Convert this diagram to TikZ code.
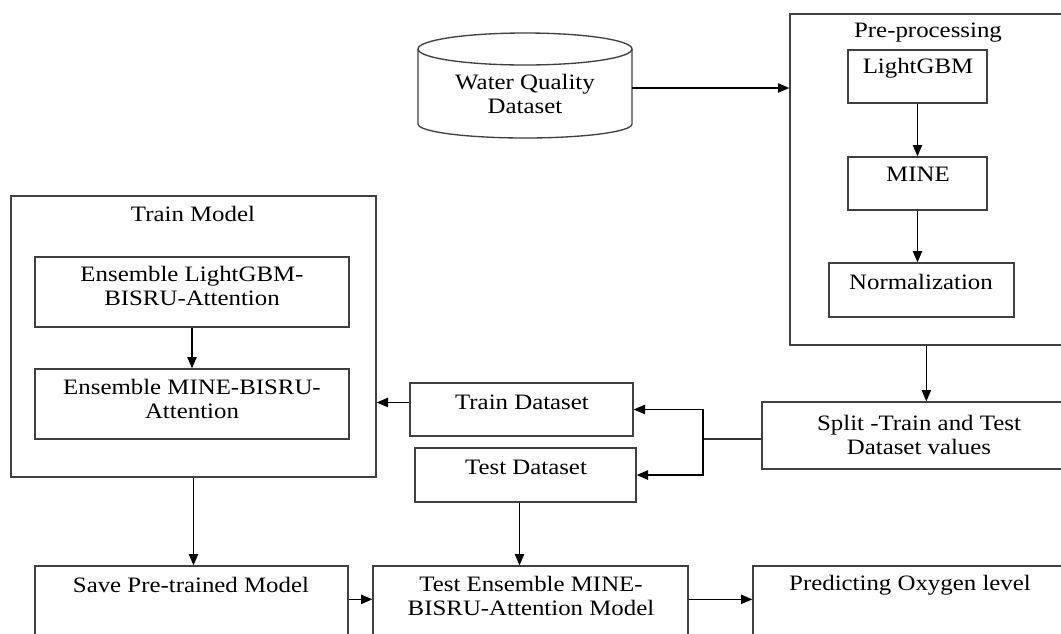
\documentclass[tikz,border=0pt]{standalone}
\usepackage{fontspec}
\setmainfont{Liberation Serif}[FakeStretch=1.13]
\usetikzlibrary{arrows.meta,fit,calc}
\tikzset{
  box/.style={draw=black!75, line width=1pt, inner sep=0pt},
  txt/.style={font=\fontsize{16.5pt}{18pt}\selectfont, align=center, inner sep=0pt, text=black},
  arr/.style={draw=black, line width=1pt, -{Triangle[length=8.5pt,width=7pt]}},
  ln/.style={draw=black!80, line width=1pt},
}
\begin{document}
\begin{tikzpicture}[x=0.75pt,y=-0.75pt]
\useasboundingbox (0,0) rectangle (1061,633);
\fill[white] (0,0) rectangle (1061,633);
\clip (0,0) rectangle (1061,633);
% database cylinder
\draw[box] (418,49) -- (418,124) arc[start angle=180,end angle=360,x radius=80.25pt,y radius=10.5pt] -- (632,49);
\draw[box] (525,49) ellipse[x radius=80.25pt, y radius=12pt];
\node[fit={(418,38) (632,138)}, inner sep=0pt] (db) {};
\node[txt] (dbt) at (525,94) {Water Quality\\Dataset};
% pre-processing
\node[box, fit={(790,14) (1075,345)}] (pre) {};
\node[txt] (pret) at (928,33) {Pre-processing};
\node[box, fit={(848,50) (987,103)}] (lgbm) {};
\node[txt] (lgbmt) at (918,68) {LightGBM};
\node[box, fit={(848,157) (987,210)}] (mine) {};
\node[txt] (minet) at (918,174) {MINE};
\node[box, fit={(829,263) (1014,317)}] (norm) {};
\node[txt] (normt) at (921,282) {Normalization};
% train model
\node[box, fit={(11,196) (376,477)}] (train) {};
\node[txt] (traint) at (193,214) {Train Model};
\node[box, fit={(35,257) (349,327)}] (ens1) {};
\node[txt] (ens1t) at (192,286) {Ensemble LightGBM-\\BISRU-Attention};
\node[box, fit={(35,369) (349,439)}] (ens2) {};
\node[txt] (ens2t) at (192,398.5) {Ensemble MINE-BISRU-\\Attention};
% datasets
\node[box, fit={(410,383) (633,436)}] (trainds) {};
\node[txt] (traindst) at (522,402) {Train Dataset};
\node[box, fit={(415,448) (636,502)}] (testds) {};
\node[txt] (testdst) at (526,467) {Test Dataset};
\node[box, fit={(762,402) (1075,469)}] (split) {};
\node[txt] (splitt) at (919,434.5) {Split -Train and Test\\Dataset values};
% bottom row
\node[box, fit={(35,566) (348,650)}] (save) {};
\node[txt] (savet) at (191,585) {Save Pre-trained Model};
\node[box, fit={(373,566) (688,650)}] (testens) {};
\node[txt] (testenst) at (531,595.5) {Test Ensemble MINE-\\BISRU-Attention Model};
\node[box, fit={(753,566) (1075,650)}] (pred) {};
\node[txt] (predt) at (910,585) {Predicting Oxygen level};
% connectors
\draw[arr] (db.east) -- (db.east -| pre.west);
\draw[arr] (lgbm.south) -- (mine.north);
\draw[arr] (mine.south) -- (mine.south |- norm.north);
\draw[arr] ($(pre.south west)+(137,0)$) -- ($(split.north west)+(165,0)$);
\coordinate (j) at (703,439);
\draw[ln] (split.west |- j) -- (j);
\draw[arr] (j) |- (trainds.east);
\draw[arr] (j) |- (testds.east);
\draw[arr] (ens1.south) -- (ens1.south |- ens2.north);
\draw[arr] ($(trainds.west)+(0,-7)$) -- ($(trainds.west -| train.east)+(0,-7)$);
\draw[arr] (train.south) -- (train.south |- save.north);
\draw[arr] ($(testds.south)+(-6,0)$) -- ($(testds.south |- testens.north)+(-6,0)$);
\draw[arr] ($(save.north east)+(0,34)$) -- ($(testens.north west)+(0,34)$);
\draw[arr] ($(testens.north east)+(0,34)$) -- ($(pred.north west)+(0,34)$);
\end{tikzpicture}
\end{document}
